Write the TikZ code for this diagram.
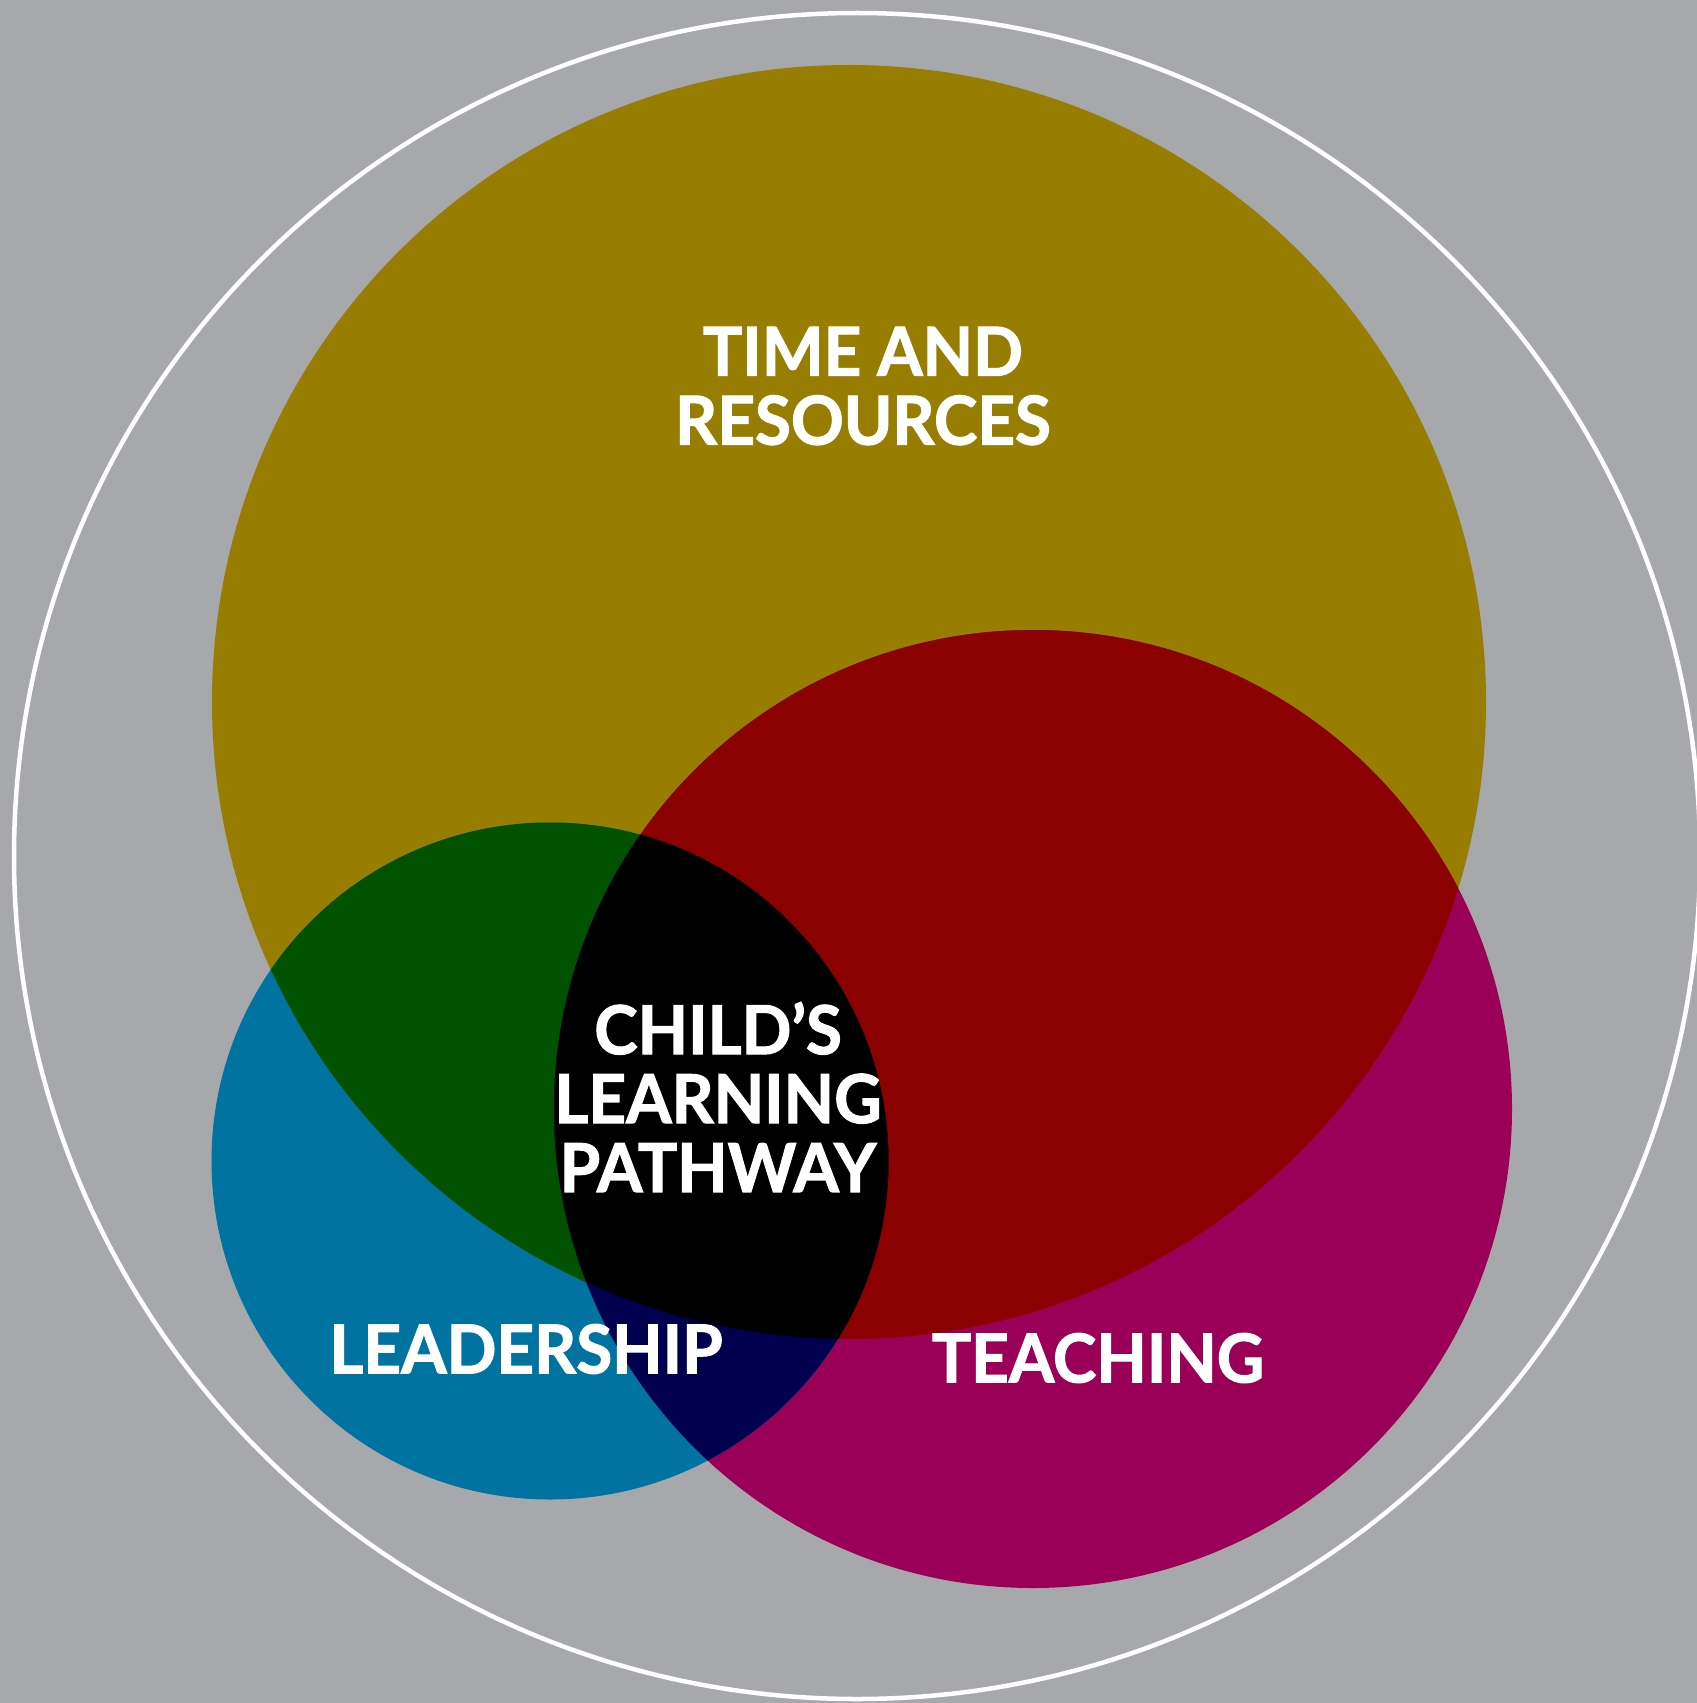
\documentclass[tikz,border=0pt]{standalone}
\usepackage{fontspec}
\setmainfont{Lato}
\newfontfamily\lblfont{Lato}[BoldFeatures={FakeBold=1.6,FakeStretch=0.97}]
\usepackage{tikz}
\definecolor{bggrey}{HTML}{A7A8AB}
\definecolor{goldc}{HTML}{977D02}
\definecolor{redc}{HTML}{8B0000}
\definecolor{magc}{HTML}{9A0057}
\definecolor{bluec}{HTML}{0073A1}
\definecolor{greenc}{HTML}{005200}
\definecolor{navyc}{HTML}{00004F}
\def\goldpath{(849, 702) circle (637)}
\def\magpath{(1033, 1109) circle (479)}
\def\bluepath{(550, 1161) circle (338.5)}
\tikzset{lbl/.style={text=white, inner sep=0pt, align=center, font=\lblfont\bfseries\fontsize{19.2}{19.6}\selectfont}}

\begin{document}
\begin{tikzpicture}[x=0.01cm, y=-0.01cm]
			%%%%% START %%%%%
			
			\fill[bggrey] (0, 0) rectangle (1697, 1703);
			\useasboundingbox (0, 0) rectangle (1697, 1703);
			
			\draw[white, line width=0.45mm] (857, 856) circle (843);
			
			\fill[goldc] \goldpath;
			\fill[magc] \magpath;
			\fill[bluec] \bluepath;
			
			\begin{scope}
				\clip \goldpath;
				\fill[redc] \magpath;
				\fill[greenc] \bluepath;
			\end{scope}
			\begin{scope}
				\clip \magpath;
				\fill[navyc] \bluepath;
				\clip \goldpath;
				\fill[black] \bluepath;
			\end{scope}
			
			\node[lbl] (time) at (863, 386) {TIME AND\\RESOURCES};
			\node[lbl] (child) at (718, 1097) {CHILD’S\\LEARNING\\PATHWAY};
			\node[lbl] (lead) at (526, 1349) {LEADERSHIP};
			\node[lbl] (teach) at (1098, 1358) {TEACHING};
			
			%%%%% END %%%%%
\end{tikzpicture}
\end{document}
